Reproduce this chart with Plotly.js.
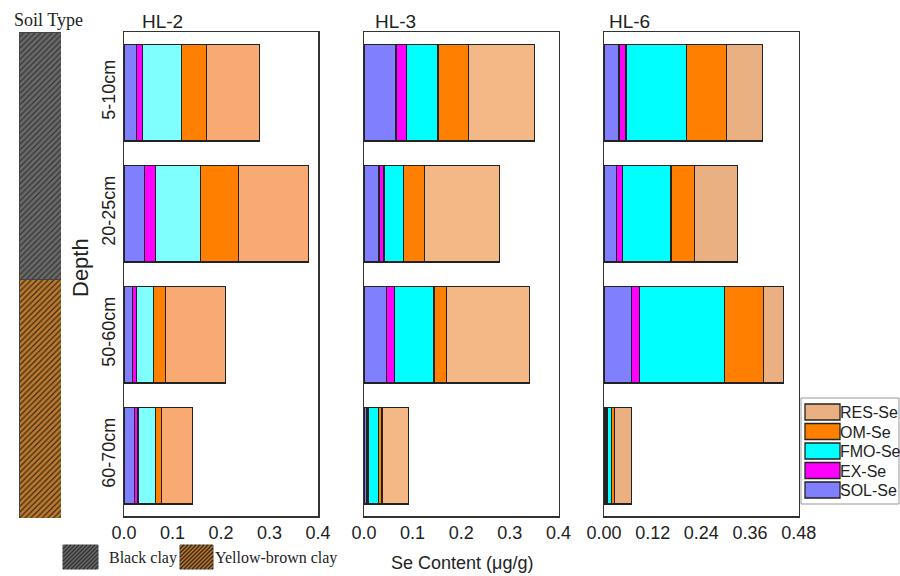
<!DOCTYPE html>
<html>
<head>
<meta charset="utf-8">
<script src="https://cdn.plot.ly/plotly-3.0.1.min.js"></script>
<style>html,body{margin:0;padding:0;background:#fff;}#chart{width:900px;height:576px;}</style>
</head>
<body>
<div id="chart"></div>
<script>
// ---- data ----
var depths = ["5-10cm", "20-25cm", "50-60cm", "60-70cm"];
var fractions = ["SOL-Se", "EX-Se", "FMO-Se", "OM-Se", "RES-Se"];
var sites = ["HL-2", "HL-3", "HL-6"];

// Se content (µg/g) per fraction, rows = depths
var hl2SOL = [0.025, 0.042, 0.018, 0.021];
var hl2EX  = [0.013, 0.023, 0.007, 0.008];
var hl2FMO = [0.081, 0.092, 0.036, 0.036];
var hl2OM  = [0.051, 0.079, 0.025, 0.013];
var hl2RES = [0.110, 0.144, 0.124, 0.063];

var hl3SOL = [0.066, 0.031, 0.046, 0.006];
var hl3EX  = [0.022, 0.010, 0.017, 0.004];
var hl3FMO = [0.064, 0.041, 0.081, 0.019];
var hl3OM  = [0.063, 0.043, 0.025, 0.008];
var hl3RES = [0.135, 0.154, 0.171, 0.055];

var hl6SOL = [0.037, 0.031, 0.067, 0.005];
var hl6EX  = [0.017, 0.015, 0.021, 0.003];
var hl6FMO = [0.149, 0.119, 0.210, 0.011];
var hl6OM  = [0.099, 0.059, 0.096, 0.006];
var hl6RES = [0.088, 0.106, 0.049, 0.043];

// soil profile (share of profile height, %)
var soilTypes = ["Black clay", "Yellow-brown clay"];
var soilShare = [51, 49];

var xTickVals2 = [0, 0.1, 0.2, 0.3, 0.4];
var xTickVals6 = [0, 0.12, 0.24, 0.36, 0.48];

// ---- styles ----
var colSOL = "#8080FF", colEX = "#FF00FF", colOM = "#FF8000";
var colFMO = ["#80FFFF", "#00FFFF", "#00FFFF"];
var colRES = ["#F9AA72", "#F4B887", "#EBB082"];
var soilBg = ["#6A6A6A", "#BC7A30"];
var soilFg = ["#333333", "#3A2810"];

var siteData = [
  [hl2SOL, hl2EX, hl2FMO, hl2OM, hl2RES],
  [hl3SOL, hl3EX, hl3FMO, hl3OM, hl3RES],
  [hl6SOL, hl6EX, hl6FMO, hl6OM, hl6RES]
];

var W = 900, H = 576;
function px(x) { return x / W; }
function py(y) { return 1 - y / H; }

var traces = [];
for (var s = 0; s < 3; s++) {
  var cols = [colSOL, colEX, colFMO[s], colOM, colRES[s]];
  for (var f = 0; f < 5; f++) {
    traces.push({
      type: "bar", orientation: "h",
      y: depths, x: siteData[s][f], name: fractions[f],
      xaxis: s === 0 ? "x" : "x" + (s + 1),
      yaxis: s === 0 ? "y" : "y" + (s + 1),
      marker: { color: cols[f], line: { color: "#222", width: 1.2 } },
      showlegend: false, hoverinfo: "skip"
    });
  }
}
for (var k = 0; k < 2; k++) {
  traces.push({
    type: "bar", x: ["soil"], y: [soilShare[k]], name: soilTypes[k], width: 1,
    xaxis: "x4", yaxis: "y4",
    marker: { color: soilBg[k], line: { color: "#444", width: 1 },
      pattern: { shape: "/", bgcolor: soilBg[k], fgcolor: soilFg[k], size: 4, solidity: 0.3 } },
    showlegend: false, hoverinfo: "skip"
  });
}

var yDom = [py(516), py(32)];
var tickFont = { family: "Arial, Liberation Sans, sans-serif", size: 18, color: "#222" };
function xax(dom, rng, vals, fmt) {
  return { domain: dom, range: rng, tickvals: vals, tickformat: fmt, showline: true, mirror: true,
    linecolor: "#333", linewidth: 1.5, showgrid: false, zeroline: false, ticks: "",
    tickfont: tickFont, fixedrange: true };
}
function yax(anchor, showLabels) {
  return { domain: yDom, anchor: anchor, type: "category", categoryarray: depths, range: [3.5, -0.5],
    showline: true, mirror: true, linecolor: "#333", linewidth: 1.5, showgrid: false, zeroline: false,
    ticks: "", showticklabels: showLabels, tickangle: -90, tickfont: tickFont, fixedrange: true };
}

var shapes = [], annotations = [];

// hatched swatch helper
function hatch(x0, y0, x1, y1, bg, fg, sp) {
  shapes.push({ type: "rect", xref: "paper", yref: "paper", x0: px(x0), x1: px(x1), y0: py(y1), y1: py(y0),
    fillcolor: bg, line: { color: "#555", width: 1 }, layer: "above" });
  var d = "";
  for (var c = x0 + y0 + sp; c < x1 + y1; c += sp) {
    var xa = Math.max(x0, c - y1), xb = Math.min(x1, c - y0);
    if (xb <= xa) continue;
    d += "M" + px(xa).toFixed(5) + "," + py(c - xa).toFixed(5) + "L" + px(xb).toFixed(5) + "," + py(c - xb).toFixed(5);
  }
  shapes.push({ type: "path", xref: "paper", yref: "paper", path: d, line: { color: fg, width: 1.4 }, layer: "above" });
}
hatch(63, 545, 98, 569, soilBg[0], soilFg[0], 4);
hatch(180, 545, 213, 569, soilBg[1], soilFg[1], 4);

var serif = { family: "Liberation Serif, Times New Roman, serif", size: 16, color: "#222" };
annotations.push({ xref: "paper", yref: "paper", x: px(107), y: py(558), xanchor: "left", yanchor: "middle",
  text: soilTypes[0], showarrow: false, font: serif });
annotations.push({ xref: "paper", yref: "paper", x: px(213), y: py(558), xanchor: "left", yanchor: "middle",
  text: soilTypes[1], showarrow: false, font: serif });
annotations.push({ xref: "paper", yref: "paper", x: px(48), y: py(20), xanchor: "center", yanchor: "middle",
  text: "Soil Type", showarrow: false, font: { family: serif.family, size: 18, color: "#222" } });

// fraction legend (top to bottom: RES ... SOL)
shapes.push({ type: "rect", xref: "paper", yref: "paper", x0: px(801), x1: px(899), y0: py(504), y1: py(398),
  fillcolor: "#fff", line: { color: "#999", width: 1 }, layer: "above" });
var legCols = [colRES[2], colOM, colFMO[2], colEX, colSOL];
var legNames = [fractions[4], fractions[3], fractions[2], fractions[1], fractions[0]];
for (var i = 0; i < 5; i++) {
  var itemTop = 404 + i * 19.5;
  shapes.push({ type: "rect", xref: "paper", yref: "paper", x0: px(805), x1: px(840), y0: py(itemTop + 16), y1: py(itemTop),
    fillcolor: legCols[i], line: { color: "#222", width: 1.3 }, layer: "above" });
  annotations.push({ xref: "paper", yref: "paper", x: px(838), y: py(itemTop + 8.5), xanchor: "left", yanchor: "middle",
    text: legNames[i], showarrow: false, font: { family: "Arial, Liberation Sans, sans-serif", size: 16, color: "#222" } });
}

// panel titles
var titleX = [140, 373, 607];
for (var t = 0; t < 3; t++) {
  annotations.push({ xref: "paper", yref: "paper", x: px(titleX[t]), y: py(21), xanchor: "left", yanchor: "middle",
    text: sites[t], showarrow: false, font: { family: "Arial, Liberation Sans, sans-serif", size: 19, color: "#222" } });
}
annotations.push({ xref: "paper", yref: "paper", x: px(80), y: py(268), textangle: -90, xanchor: "center", yanchor: "middle",
  text: "Depth", showarrow: false, font: { family: "Arial, Liberation Sans, sans-serif", size: 22, color: "#222" } });
annotations.push({ xref: "paper", yref: "paper", x: px(462), y: py(563), xanchor: "center", yanchor: "middle",
  text: "Se Content (μg/g)", showarrow: false, font: { family: "Arial, Liberation Sans, sans-serif", size: 18, color: "#222" } });

var layout = {
  width: W, height: H, margin: { l: 0, r: 0, t: 0, b: 0 },
  paper_bgcolor: "#fff", plot_bgcolor: "#fff",
  barmode: "stack", bargap: 0.2, showlegend: false, hovermode: false,
  xaxis: xax([px(124), px(318)], [0, 0.4], xTickVals2, ".1f"),
  xaxis2: xax([px(364), px(558.5)], [0, 0.4], xTickVals2, ".1f"),
  xaxis3: xax([px(604), px(798.7)], [0, 0.48], xTickVals6, ".2f"),
  yaxis: yax("x", true),
  yaxis2: yax("x2", false),
  yaxis3: yax("x3", false),
  xaxis4: { domain: [px(19), px(61)], anchor: "y4", range: [-0.5, 0.5], visible: false, fixedrange: true },
  yaxis4: { domain: [py(518), py(32)], anchor: "x4", range: [100, 0], visible: false, fixedrange: true },
  shapes: shapes, annotations: annotations
};
layout.xaxis.anchor = "y"; layout.xaxis2.anchor = "y2"; layout.xaxis3.anchor = "y3";

Plotly.newPlot("chart", traces, layout, { staticPlot: true, displayModeBar: false });
</script>
</body>
</html>
